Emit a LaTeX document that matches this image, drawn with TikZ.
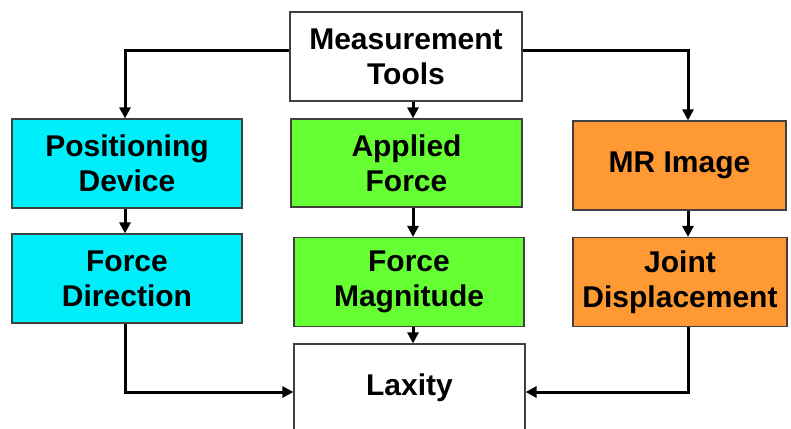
\documentclass[tikz,border=0pt]{standalone}
\usepackage{fontspec}
\setmainfont{Liberation Sans}
\usetikzlibrary{arrows.meta}
\definecolor{boxcyan}{RGB}{0,238,250}
\definecolor{boxgreen}{RGB}{102,255,51}
\definecolor{boxorange}{RGB}{255,153,51}
\tikzset{box/.style = {draw=black!75, line width=1.2pt, align=center,
                       inner sep=0pt, font=\fontsize{30}{35}\selectfont\bfseries},
         link/.style = {line width=3pt, -{Triangle[length=11pt,width=11pt]}}}
\begin{document}
\begin{tikzpicture}[x=1pt, y=-1pt]
    \useasboundingbox (0,0) rectangle (791,428);
    \fill [white] (0,0) rectangle (791,428);

    \node [box, fill=white, minimum width=232pt, minimum height=89pt] (tools) at (406,56.5) {Measurement\\Tools};
    \node [box, fill=boxcyan, minimum width=230pt, minimum height=89pt] (posdev) at (127,163.5) {Positioning\\Device};
    \node [box, fill=boxgreen, minimum width=231pt, minimum height=88pt] (applied) at (406.5,163) {Applied\\Force};
    \node [box, fill=boxorange, minimum width=213pt, minimum height=89pt] (mrimg) at (679.5,165.5) {MR Image};
    \node [box, fill=boxcyan, minimum width=230pt, minimum height=89pt] (forcedir) at (127,278.5) {Force\\Direction};
    \node [box, fill=boxgreen, minimum width=230pt, minimum height=89pt] (forcemag) at (409,282) {Force\\Magnitude};
    \node [box, fill=boxorange, minimum width=214pt, minimum height=89pt] (jointdisp) at (680,282) {Joint\\Displacement};
    \node [box, fill=white, minimum width=231pt, minimum height=88pt] (laxity) at (409.5,388) {Laxity};

    % the connectors run a little off the box centres
    \coordinate (leftcol) at (125,0);
    \coordinate (midcol) at (413,0);
    \coordinate (rightcol) at (688,0);

    \draw [link] ([yshift=6pt]tools.west) -| (leftcol |- posdev.north);
    \draw [link] ([yshift=6pt]tools.east) -| (rightcol |- mrimg.north);
    \draw [link] (midcol |- tools.south) -- (midcol |- applied.north);
    \draw [link] (leftcol |- posdev.south) -- (leftcol |- forcedir.north);
    \draw [link] (midcol |- applied.south) -- (midcol |- forcemag.north);
    \draw [link] (rightcol |- mrimg.south) -- (rightcol |- jointdisp.north);
    \draw [link] (midcol |- forcemag.south) -- (midcol |- laxity.north);
    \draw [link] (leftcol |- forcedir.south) |- ([yshift=-4pt]laxity.west);
    \draw [link] (rightcol |- jointdisp.south) |- ([yshift=-4pt]laxity.east);
\end{tikzpicture}
\end{document}
